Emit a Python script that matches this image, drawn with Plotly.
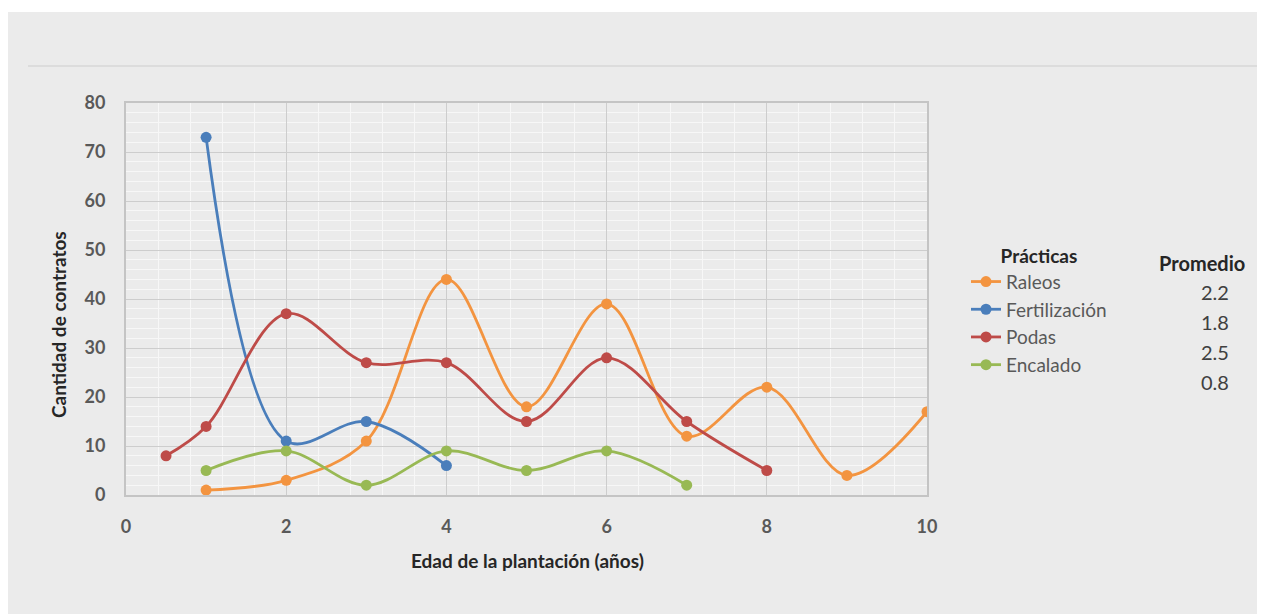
import plotly.graph_objects as go

# data
raleos_x = [1, 2, 3, 4, 5, 6, 7, 8, 9, 10]
raleos_y = [1, 3, 11, 44, 18, 39, 12, 22, 4, 17]

fert_x = [1, 2, 3, 4]
fert_y = [73, 11, 15, 6]

podas_x = [0.5, 1, 2, 3, 4, 5, 6, 7, 8]
podas_y = [8, 14, 37, 27, 27, 15, 28, 15, 5]

encalado_x = [1, 2, 3, 4, 5, 6, 7]
encalado_y = [5, 9, 2, 9, 5, 9, 2]

practicas = ["Raleos", "Fertilización", "Podas", "Encalado"]
promedios = ["2.2", "1.8", "2.5", "0.8"]
colors = ["#F39440", "#4A7EBB", "#BE4B48", "#98B954"]

series = [
    (raleos_x, raleos_y),
    (fert_x, fert_y),
    (podas_x, podas_y),
    (encalado_x, encalado_y),
]

FONT = "Lato"

fig = go.Figure()
for name, (xs, ys), color in zip(practicas, series, colors):
    fig.add_trace(
        go.Scatter(
            x=xs,
            y=ys,
            name=name,
            mode="lines+markers",
            line=dict(color=color, width=2.8, shape="spline", smoothing=1),
            marker=dict(color=color, size=11),
        )
    )

axis_common = dict(
    showline=True,
    mirror=True,
    linecolor="#c4c4c4",
    linewidth=2,
    gridcolor="#cdcdcd",
    gridwidth=1,
    zeroline=False,
    ticks="",
    tickfont=dict(family=FONT, size=18, color="#595959", weight="bold"),
)

fig.update_xaxes(
    range=[0, 10],
    dtick=2,
    tick0=0,
    minor=dict(dtick=0.4, showgrid=True, gridcolor="#f7f7f7", gridwidth=1),
    ticklabelstandoff=14,
    **axis_common,
)
fig.update_yaxes(
    range=[0, 80],
    dtick=10,
    tick0=0,
    minor=dict(dtick=2, showgrid=True, gridcolor="#f7f7f7", gridwidth=1),
    ticklabelstandoff=15,
    **axis_common,
)


def px_y(y):
    # screen pixel row -> paper y (plot area spans rows 103..495)
    return (495 - y) / 392


def px_x(x):
    # screen pixel column -> paper x (plot area spans columns 126..927)
    return (x - 126) / 801


annotations = [
    dict(
        text="<b>Cantidad de contratos</b>",
        x=px_x(58), y=px_y(325), xref="paper", yref="paper",
        xanchor="center", yanchor="middle",
        textangle=-90, showarrow=False,
        font=dict(family=FONT, size=19, color="#262626"),
    ),
    dict(
        text="<b>Edad de la plantación (años)</b>",
        x=px_x(527), y=px_y(560), xref="paper", yref="paper",
        xanchor="center", yanchor="middle",
        showarrow=False,
        font=dict(family=FONT, size=19, color="#262626"),
    ),
    dict(
        text="<b>Promedio</b>",
        x=px_x(1202), y=px_y(263), xref="paper", yref="paper",
        xanchor="center", yanchor="middle",
        showarrow=False,
        font=dict(family=FONT, size=20, color="#262626"),
    ),
]
for i, val in enumerate(promedios):
    annotations.append(
        dict(
            text=val,
            x=px_x(1215), y=px_y(292 + 30 * i), xref="paper", yref="paper",
            xanchor="center", yanchor="middle",
            showarrow=False,
            font=dict(family=FONT, size=20, color="#404040"),
        )
    )

fig.update_layout(
    width=1257,
    height=606,
    margin=dict(l=118, r=338, t=95, b=119),
    paper_bgcolor="#ebebeb",
    plot_bgcolor="#ebebeb",
    font=dict(family=FONT),
    showlegend=True,
    legend=dict(
        title=dict(
            text="<b>Prácticas</b>",
            side="top center",
            font=dict(family=FONT, size=19, color="#262626"),
        ),
        font=dict(family=FONT, size=19, color="#595959"),
        x=px_x(966), xanchor="left",
        y=px_y(238), yanchor="top",
        bgcolor="rgba(0,0,0,0)",
        itemwidth=30,
        tracegroupgap=0,
    ),
    annotations=annotations,
    shapes=[
        # white strip above the gray panel
        dict(type="rect", xref="paper", yref="paper",
             x0=-0.2, x1=1.5, y0=px_y(12), y1=1.3,
             fillcolor="white", line_width=0, layer="below"),
        # thin separator line under the empty title area
        dict(type="line", xref="paper", yref="paper",
             x0=px_x(28), x1=px_x(1257),
             y0=px_y(66), y1=px_y(66),
             line=dict(color="#dcdcdc", width=2), layer="below"),
    ],
)

fig.write_html("out.html")
